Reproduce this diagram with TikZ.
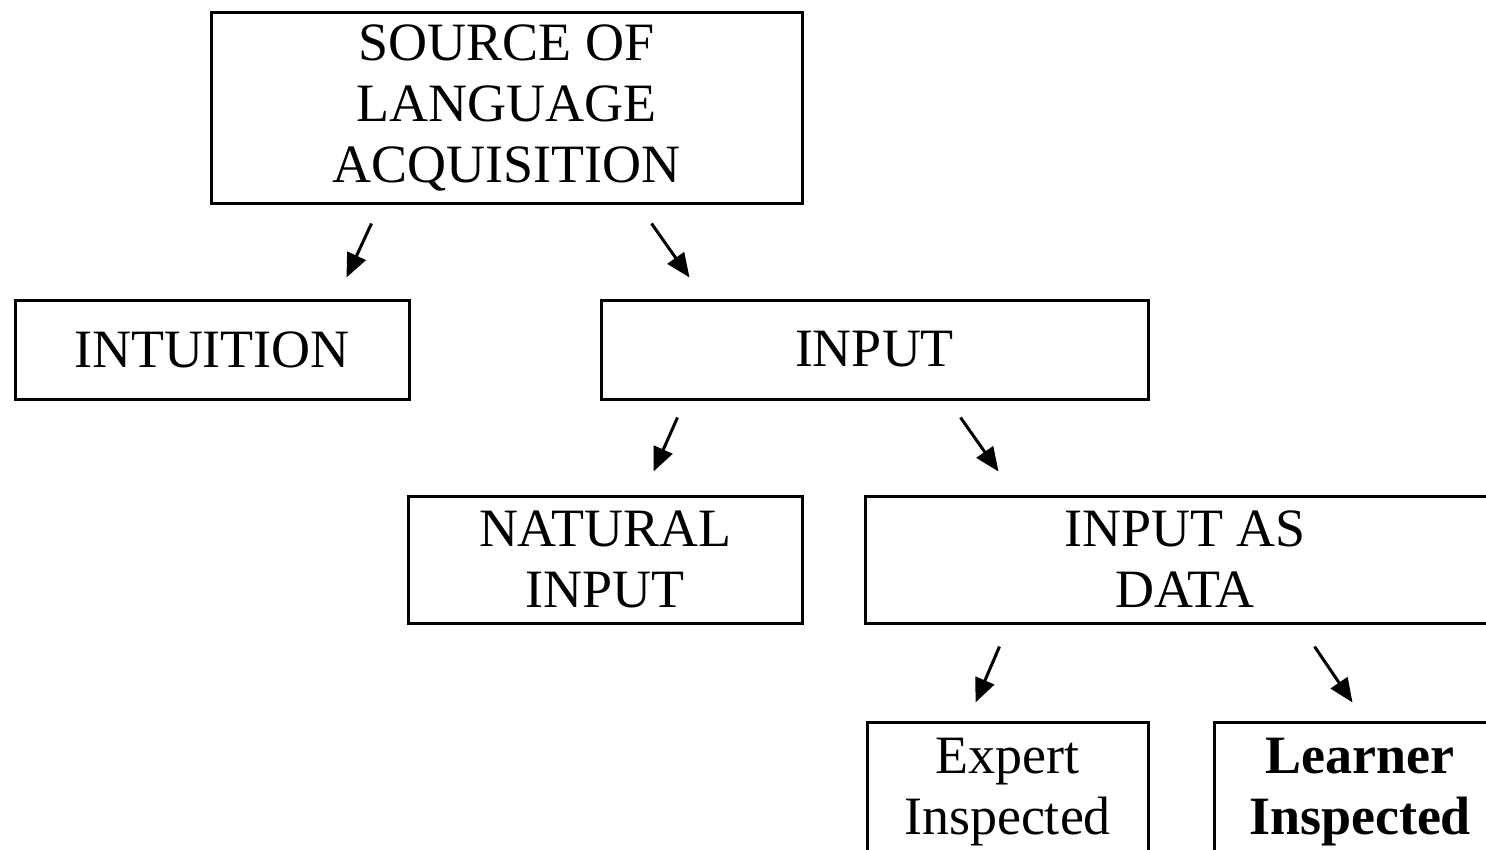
\documentclass[tikz,border=0pt]{standalone}
\usepackage{fontspec}
\setmainfont{Liberation Serif}
\usetikzlibrary{arrows.meta,calc}
\tikzset{
  box/.style={draw, line width=3pt, align=center, inner sep=0pt,
    font=\fontsize{54}{61}\selectfont},
  arr/.style={line width=3pt, -{Triangle[length=24pt,width=20pt]}}
}
\begin{document}
\begin{tikzpicture}[x=1pt,y=-1pt]
\useasboundingbox (0,0) rectangle (1486,849);
\clip (0,0) rectangle (1486,849);
\node[box, minimum width=591, minimum height=191] (src) at (506.5,107.5)
  {\raisebox{-3pt}{\parbox{500pt}{\centering SOURCE OF\\LANGUAGE\\ACQUISITION}}};
\node[box, minimum width=394, minimum height=99] (intu) at (212,349.5) {INTUITION};
\node[box, minimum width=547, minimum height=99] (inp) at (874.5,349.5) {INPUT};
\node[box, minimum width=394, minimum height=127] (nat) at (605,559.5) {NATURAL\\INPUT};
\node[box, minimum width=640, minimum height=127] (dat) at (1185,559.5) {INPUT AS\\DATA};
\node[box, minimum width=281, minimum height=140] (exp) at (1007.5,792) {Expert\\Inspected};
\node[box, minimum width=292, minimum height=140, font=\fontsize{54}{61}\selectfont\bfseries] (lrn) at (1360,792) {Learner\\Inspected};
% arrow end points, placed relative to the boxes
\coordinate (a1s) at ($(src.south west)+(162,19)$);
\coordinate (a1e) at ($(intu.north west)+(333,-21)$);
\coordinate (a2s) at ($(src.south west)+(442,19)$);
\coordinate (a2e) at ($(inp.north west)+(90,-21)$);
\coordinate (a3s) at ($(inp.south west)+(78,17)$);
\coordinate (a3e) at ($(nat.north west)+(247,-23)$);
\coordinate (a4s) at ($(inp.south west)+(361,17)$);
\coordinate (a4e) at ($(dat.north west)+(135,-23)$);
\coordinate (a5s) at ($(dat.south west)+(136,22)$);
\coordinate (a5e) at ($(exp.north west)+(110,-18)$);
\coordinate (a6s) at ($(dat.south west)+(451,22)$);
\coordinate (a6e) at ($(lrn.north west)+(140,-18)$);
\draw[arr] (a1s) -- (a1e);
\draw[arr] (a2s) -- (a2e);
\draw[arr] (a3s) -- (a3e);
\draw[arr] (a4s) -- (a4e);
\draw[arr] (a5s) -- (a5e);
\draw[arr] (a6s) -- (a6e);
\end{tikzpicture}
\end{document}
